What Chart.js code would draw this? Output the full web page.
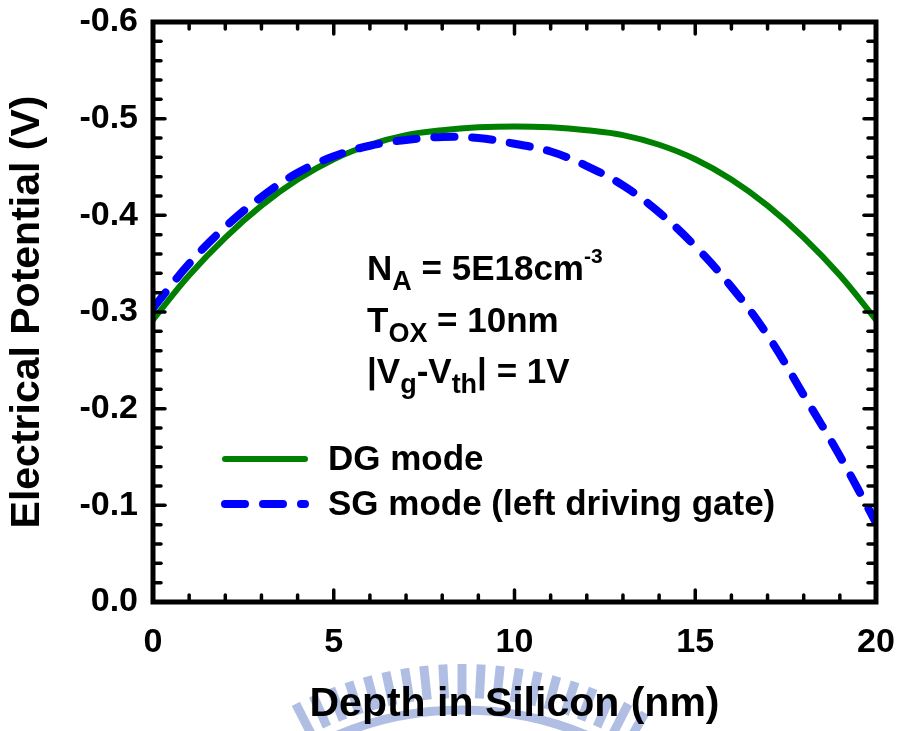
<!DOCTYPE html>
<html>
<head>
<meta charset="utf-8">
<script src="https://cdn.jsdelivr.net/npm/chart.js@4.4.1/dist/chart.umd.min.js"></script>
<style>
  html, body { margin: 0; padding: 0; background: #fff; overflow: hidden; }
  #c { display: block; }
</style>
</head>
<body>
<canvas id="c" width="897" height="731"></canvas>
<script>
// Depth across the silicon film (nm)
const depthNm = [0, 1, 2, 3, 4, 5, 6, 7, 8, 9, 10, 11, 12, 13, 14, 15, 16, 17, 18, 19, 20];

// Electrical potential (V), double-gate operation
const dgPotential = [-0.292, -0.338, -0.377, -0.410, -0.437, -0.458, -0.473, -0.483, -0.488, -0.491, -0.492,
                     -0.491, -0.488, -0.483, -0.473, -0.458, -0.437, -0.410, -0.377, -0.338, -0.292];

// Electrical potential (V), single-gate operation driven from the left gate
const sgPotential = [-0.304, -0.350, -0.388, -0.419, -0.444, -0.461, -0.472, -0.478, -0.481, -0.480, -0.474,
                     -0.466, -0.451, -0.431, -0.403, -0.368, -0.326, -0.276, -0.214, -0.151, -0.082];

const seriesNames = ['DG mode', 'SG mode (left driving gate)'];

// Labelled (major) tick values
const xMajorTicks = [0, 5, 10, 15, 20];
const yMajorTicks = [-0.6, -0.5, -0.4, -0.3, -0.2, -0.1, 0.0];

// Device parameters printed inside the plot
const paramLines = [
  [{ t: 'N' }, { t: 'A', sub: true }, { t: ' = 5E18cm' }, { t: '-3', sup: true }],
  [{ t: 'T' }, { t: 'OX', sub: true }, { t: ' = 10nm' }],
  [{ t: '|V' }, { t: 'g', sub: true }, { t: '-V' }, { t: 'th', sub: true }, { t: '| = 1V' }]
];

const FONT = '"Liberation Sans", Arial, Helvetica, sans-serif';
const isMajor = (v, list) => list.some(m => Math.abs(m - v) < 1e-6);

// Faint emblem stamped behind the lower margin
const emblem = {
  id: 'emblem',
  beforeDraw(chart) {
    const { ctx } = chart;
    const cx = 462, cy = 1030;
    ctx.save();
    ctx.strokeStyle = '#b1bee4';
    ctx.lineCap = 'butt';
    ctx.lineWidth = 9;
    for (let deg = -27; deg <= 30; deg += 3) {
      const r = deg * Math.PI / 180;
      const sx = Math.sin(r), sy = -Math.cos(r);
      ctx.beginPath();
      ctx.moveTo(cx + sx * 332, cy + sy * 332);
      ctx.lineTo(cx + sx * 366, cy + sy * 366);
      ctx.stroke();
    }
    ctx.lineWidth = 9;
    ctx.beginPath();
    ctx.arc(cx, cy, 320, Math.PI * 1.5 - 0.5, Math.PI * 1.5 + 0.5);
    ctx.stroke();
    ctx.restore();
  }
};

// Closed frame with inward major/minor ticks on all four sides
const frameAndTicks = {
  id: 'frameAndTicks',
  afterDatasetsDraw(chart) {
    const { ctx, chartArea: a, scales: { x, y } } = chart;
    const seg = (x1, y1, x2, y2) => { ctx.beginPath(); ctx.moveTo(x1, y1); ctx.lineTo(x2, y2); ctx.stroke(); };
    ctx.save();
    ctx.strokeStyle = '#000';
    ctx.lineCap = 'round';
    ctx.lineWidth = 3.5;
    x.ticks.forEach(t => {
      const px = x.getPixelForValue(t.value);
      const len = isMajor(t.value, xMajorTicks) ? 12 : 7;
      seg(px, a.bottom, px, a.bottom - len);
      seg(px, a.top, px, a.top + len);
    });
    y.ticks.forEach(t => {
      const py = y.getPixelForValue(t.value);
      const len = isMajor(t.value, yMajorTicks) ? 12 : 8;
      seg(a.left, py, a.left + len, py);
      seg(a.right, py, a.right - len, py);
    });
    ctx.lineCap = 'butt';
    ctx.lineWidth = 5;
    ctx.strokeRect(a.left, a.top, a.right - a.left, a.bottom - a.top);
    ctx.restore();
  }
};

// Parameter block and in-plot legend
const annotations = {
  id: 'annotations',
  afterDraw(chart) {
    const { ctx, chartArea: a } = chart;
    ctx.save();
    ctx.fillStyle = '#000';
    ctx.textBaseline = 'alphabetic';
    ctx.textAlign = 'left';

    const mainSize = 35, subSize = 27, supSize = 21;
    let baseY = a.top + 258;
    paramLines.forEach(parts => {
      let cx = a.left + 214;
      parts.forEach(p => {
        const size = p.sub ? subSize : (p.sup ? supSize : mainSize);
        ctx.font = `bold ${size}px ${FONT}`;
        const dy = p.sub ? 10 : (p.sup ? -17 : 0);
        ctx.fillText(p.t, cx, baseY + dy);
        cx += ctx.measureText(p.t).width;
      });
      baseY += 51.5;
    });

    const ds = chart.data.datasets;
    const rows = [a.top + 437, a.top + 482];
    ds.forEach((d, i) => {
      const ly = rows[i];
      ctx.save();
      ctx.strokeStyle = d.borderColor;
      ctx.lineWidth = d.borderWidth;
      ctx.lineCap = d.borderCapStyle || 'butt';
      ctx.setLineDash(d.borderDash || []);
      ctx.beginPath();
      ctx.moveTo(a.left + 72, ly);
      ctx.lineTo(a.left + 152, ly);
      ctx.stroke();
      ctx.restore();
      ctx.font = `bold 35px ${FONT}`;
      ctx.textBaseline = 'middle';
      ctx.fillText(d.label, a.left + 175, ly + 1);
    });
    ctx.restore();
  }
};

const toPoints = (xs, ys) => xs.map((v, i) => ({ x: v, y: ys[i] }));

new Chart(document.getElementById('c'), {
  type: 'line',
  data: {
    datasets: [
      {
        label: seriesNames[0],
        data: toPoints(depthNm, dgPotential),
        borderColor: '#008000',
        borderWidth: 6,
        borderCapStyle: 'round',
        pointRadius: 0,
        tension: 0.4,
        order: 1
      },
      {
        label: seriesNames[1],
        data: toPoints(depthNm, sgPotential),
        borderColor: '#0000ff',
        borderWidth: 8,
        borderDash: [20, 18],
        borderCapStyle: 'round',
        pointRadius: 0,
        tension: 0.4,
        order: 0
      }
    ]
  },
  options: {
    responsive: false,
    devicePixelRatio: 1,
    animation: false,
    layout: { padding: { left: 0, top: 22, right: 21, bottom: 0 } },
    plugins: { legend: { display: false }, tooltip: { enabled: false } },
    scales: {
      x: {
        type: 'linear',
        min: 0, max: 20,
        afterFit(s) { s.height = 129; s.paddingLeft = 0; s.paddingRight = 0; },
        border: { display: false },
        grid: { drawOnChartArea: false, drawTicks: false },
        ticks: {
          stepSize: 1, autoSkip: false, maxRotation: 0, padding: 20,
          color: '#000', font: { family: FONT, size: 34, weight: 'bold' },
          callback: v => isMajor(v, xMajorTicks) ? String(Math.round(v)) : ''
        },
        title: {
          display: true, text: 'Depth in Silicon (nm)', color: '#000',
          font: { family: FONT, size: 41, weight: 'bold' },
          padding: { top: 0, bottom: 2 }
        }
      },
      y: {
        type: 'linear',
        min: -0.6, max: 0, reverse: true,
        afterFit(s) { s.width = 153; s.paddingTop = 0; s.paddingBottom = 0; },
        border: { display: false },
        grid: { drawOnChartArea: false, drawTicks: false },
        ticks: {
          stepSize: 0.02, autoSkip: false, maxTicksLimit: 100, padding: 15,
          color: '#000', font: { family: FONT, size: 34, weight: 'bold' },
          callback: v => isMajor(v, yMajorTicks) ? (Math.abs(v) < 1e-9 ? '0.0' : v.toFixed(1)) : ''
        },
        title: {
          display: true, text: 'Electrical Potential (V)', color: '#000',
          font: { family: FONT, size: 41, weight: 'bold' },
          padding: { top: 3, bottom: 0 }
        }
      }
    }
  },
  plugins: [emblem, frameAndTicks, annotations]
});
</script>
</body>
</html>
